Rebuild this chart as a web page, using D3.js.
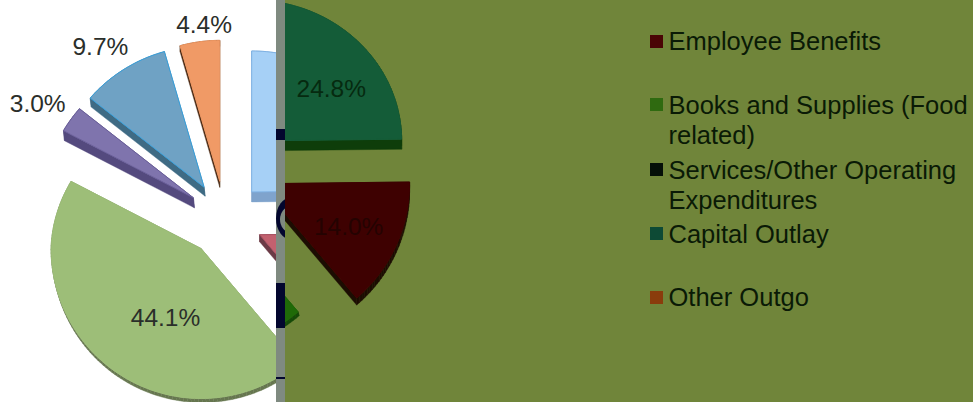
<!DOCTYPE html>
<html>
<head>
<meta charset="utf-8">
<style>
  html, body { margin: 0; padding: 0; background: #fff; }
  svg { display: block; }
  text { font-family: "Liberation Sans", Arial, sans-serif; }
</style>
</head>
<body>
<script src="https://cdn.jsdelivr.net/npm/d3@7/dist/d3.min.js"></script>
<script>
// Budget shares, clockwise from twelve o'clock
const shares = [24.8, 14.0, 44.1, 3.0, 9.7, 4.4];
const shareLabels = ["24.8%", "14.0%", "44.1%", "3.0%", "9.7%", "4.4%"];

// Legend rows; each wrapped label is split into its lines
const legendRows = [
  ["Employee Benefits"],
  ["Books and Supplies (Food", "related)"],
  ["Services/Other Operating", "Expenditures"],
  ["Capital Outlay"],
  ["Other Outgo"]
];
const legendSwatches = ["#4a0505", "#2f6a10", "#050f08", "#0d4a35", "#8a3c0c"];
const legendBaselines = [50, 114, 179, 243, 306];
const legendSwatchTops = [35, 98, 163, 227, 291];

// Slice colours on the white panel and on the olive panel
const lightFill = ["#a6d0f6", "#c2616f", "#9dbe78", "#7f74ad", "#6fa2c4", "#f09a66"];
const lightSide = ["#7fa3cc", "#6b3a46", "#66764f", "#544a7e", "#3f6b84", "#4a2812"];
const lightEdge = ["#7fb2e4", "#a85060", "#9dbe78", "#6a5f9a", "#38a0dc", "#ec9560"];
const darkFill = ["#145c38", "#3e0101", "#1f6a08", "#050f08", "#0d4a35", "#8a3c0c"];
const darkSide = ["#0e3d0a", "#1c0d02", "#154a08", "#050f08", "#08301f", "#4a2812"];

// Extrusion of each slice's lower wall, and label placement around the pie centre
const wallShift = [[0, 10], [0, 7], [1, 4], [1, 10], [1, 9], [0, 6]];
const labelRadius = [133, 137, 115, 220, 213, 196];
const labelTurn = [8.4, 1, -7.9, -2.2, -2.5, 1.8];

const width = 973, height = 402;
const centre = { x: 225, y: 219 };
const explode = 38, radius = 150;
const farSquash = 0.94;          // the far half of the pie is foreshortened
const farLeftPinch = 0.03;       // and leans slightly inward on its left side
const panelSplit = { left: 276, right: 285 };
const olivePanelLift = 51;       // the olive panel's pie sits higher than the white one
const olive = "#70853a", strip = "#7f8a80", navy = "#03062e";

const svg = d3.select("body").append("svg").attr("width", width).attr("height", height);
const toRad = Math.PI / 180;

const arcs = d3.pie().sort(null).startAngle(0).endAngle(2 * Math.PI)(shares);
const outline = d3.line().x(p => p[0]).y(p => p[1]).curve(d3.curveLinear);

function project(angle, r) {
  const sin = Math.sin(angle), cos = Math.cos(angle);
  const xScale = sin < 0 ? 1 - farLeftPinch * Math.max(0, cos) : 1;
  const dy = -cos * r;
  return [sin * r * xScale, dy < 0 ? dy * farSquash : dy];
}

function slicePoints(a) {
  const mid = (a.startAngle + a.endAngle) / 2;
  const ox = centre.x + Math.sin(mid) * explode;
  const oy = centre.y - Math.cos(mid) * explode;
  const n = Math.max(4, Math.ceil((a.endAngle - a.startAngle) * 40));
  const rim = d3.range(n + 1).map(i => {
    const p = project(a.startAngle + (a.endAngle - a.startAngle) * i / n, radius);
    return [ox + p[0], oy + p[1]];
  });
  return [[ox, oy], ...rim];
}

function drawPie(g, fills, sides, edges) {
  const slices = g.selectAll("g.slice").data(arcs).join("g").attr("class", "slice");
  // wall: one quad per outline segment, swept along the extrusion
  slices.each(function (d) {
    const pts = slicePoints(d), [sx, sy] = wallShift[d.index];
    const wall = d3.select(this);
    pts.forEach((p, i) => {
      const q = pts[(i + 1) % pts.length];
      wall.append("path")
        .attr("d", outline([p, q, [q[0] + sx, q[1] + sy], [p[0] + sx, p[1] + sy]]) + "Z")
        .attr("fill", sides[d.index])
        .attr("stroke", sides[d.index])
        .attr("stroke-width", 0.4);
    });
  });
  slices.append("path")
    .attr("d", d => outline(slicePoints(d)) + "Z")
    .attr("fill", d => fills[d.index])
    .attr("stroke", d => edges ? edges[d.index] : fills[d.index])
    .attr("stroke-width", 1);
}

function drawLabels(g, which, colour) {
  const at = i => (arcs[i].startAngle + arcs[i].endAngle) / 2 + labelTurn[i] * toRad;
  g.selectAll("text.share").data(which).join("text")
    .attr("class", "share")
    .attr("text-anchor", "middle")
    .attr("font-size", 24.5)
    .attr("fill", colour)
    .attr("x", i => centre.x + Math.sin(at(i)) * labelRadius[i])
    .attr("y", i => centre.y - Math.cos(at(i)) * labelRadius[i] + 8.5)
    .text(i => shareLabels[i]);
}

const defs = svg.append("defs");
defs.append("clipPath").attr("id", "white-panel").append("rect")
  .attr("x", 0).attr("y", 0).attr("width", panelSplit.left).attr("height", height);
defs.append("clipPath").attr("id", "olive-panel").append("rect")
  .attr("x", panelSplit.right).attr("y", 0).attr("width", width - panelSplit.right).attr("height", height);
defs.append("clipPath").attr("id", "strip-panel").append("rect")
  .attr("x", panelSplit.left).attr("y", 0).attr("width", panelSplit.right - panelSplit.left).attr("height", height);

// White panel
const whitePanel = svg.append("g").attr("clip-path", "url(#white-panel)");
whitePanel.append("rect").attr("width", panelSplit.left).attr("height", height).attr("fill", "#fff");
drawPie(whitePanel.append("g"), lightFill, lightSide, lightEdge);
drawLabels(whitePanel.append("g"), [2, 3, 4, 5], "#2a2e2a");

// Olive panel with the same pie in deep colours
const olivePanel = svg.append("g").attr("clip-path", "url(#olive-panel)");
olivePanel.append("rect").attr("x", panelSplit.right).attr("width", width - panelSplit.right).attr("height", height).attr("fill", olive);
const liftedPie = olivePanel.append("g").attr("transform", `translate(0,${-olivePanelLift})`);
drawPie(liftedPie.append("g"), darkFill, darkSide, null);
drawLabels(liftedPie.append("g"), [0], "#062a10");
drawLabels(liftedPie.append("g"), [1], "#240301");

// Divider strip, carrying fragments of lettering from behind it
const divider = svg.append("g").attr("clip-path", "url(#strip-panel)");
divider.append("rect").attr("x", panelSplit.left).attr("width", panelSplit.right - panelSplit.left).attr("height", height).attr("fill", strip);
const stripPieces = [[129, 11], [283, 45], [377, 2]];
divider.selectAll("rect.piece").data(stripPieces).join("rect")
  .attr("class", "piece")
  .attr("x", panelSplit.left).attr("width", panelSplit.right - panelSplit.left)
  .attr("y", d => d[0]).attr("height", d => d[1]).attr("fill", navy);
divider.append("ellipse")
  .attr("cx", 292).attr("cy", 218.5).attr("rx", 16).attr("ry", 21.5).attr("fill", navy);
divider.append("ellipse")
  .attr("cx", 291).attr("cy", 219.5).attr("rx", 11).attr("ry", 13).attr("fill", strip);

// Legend
const legend = svg.append("g");
legendRows.forEach((lines, i) => {
  legend.append("rect")
    .attr("x", 650).attr("y", legendSwatchTops[i]).attr("width", 13).attr("height", 13)
    .attr("fill", legendSwatches[i]);
  lines.forEach((line, j) => {
    legend.append("text")
      .attr("x", 668.5).attr("y", legendBaselines[i] + j * 29.5)
      .attr("font-size", 25.5).attr("fill", "#0a1a06")
      .text(line);
  });
});
</script>
</body>
</html>
